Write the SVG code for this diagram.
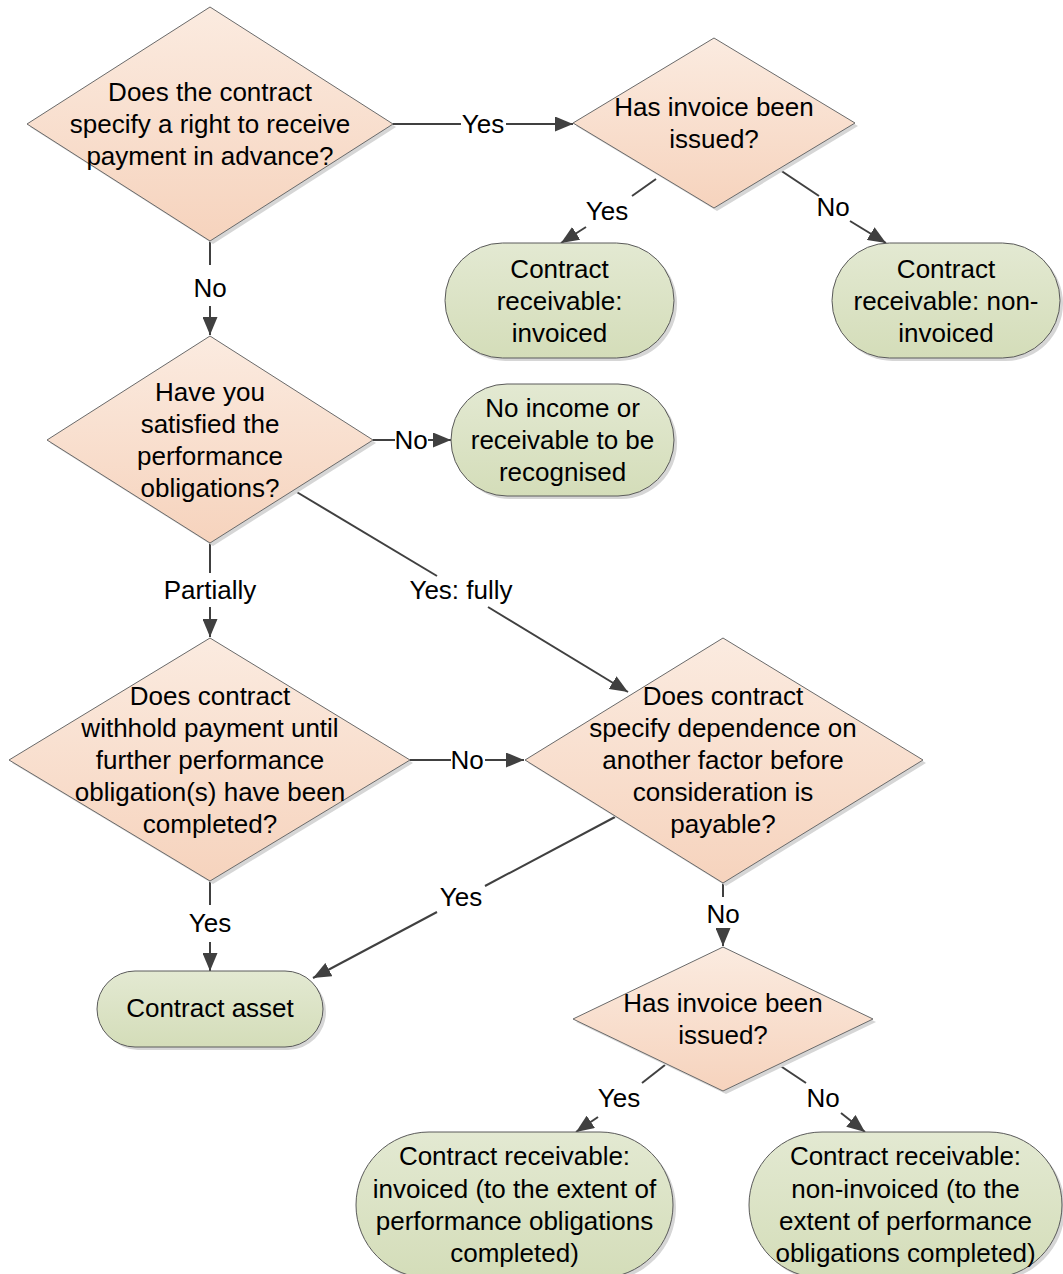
<svg xmlns="http://www.w3.org/2000/svg" width="1063" height="1274" viewBox="0 0 1063 1274">
<defs>
<linearGradient id="gD" x1="0" y1="0" x2="0" y2="1">
<stop offset="0" stop-color="#FBEBE0"/>
<stop offset="1" stop-color="#F6D3BD"/>
</linearGradient>
<linearGradient id="gT" x1="0" y1="0" x2="0" y2="1">
<stop offset="0" stop-color="#E3E9D2"/>
<stop offset="1" stop-color="#D4DDB9"/>
</linearGradient>
<marker id="arr" viewBox="0 0 18 15" markerWidth="18" markerHeight="15" refX="18" refY="7.5" orient="auto" markerUnits="userSpaceOnUse">
<path d="M0,0 L18,7.5 L0,15 z" fill="#404040"/>
</marker>
</defs>
<style>
.dia{fill:url(#gD);stroke:#6a6a6a;stroke-width:1}
.ter{fill:url(#gT);stroke:#5a5a5a;stroke-width:1}
.sh{fill:#d6d6d6}
.t{font-family:"Liberation Sans",Arial,sans-serif;font-size:26px;fill:#000;text-anchor:middle}
.c{stroke:#404040;stroke-width:2;fill:none}
.a{marker-end:url(#arr)}
</style>
<rect width="1063" height="1274" fill="#fff"/>

<g id="connectors">
<line class="c" x1="393" y1="124" x2="461" y2="124"/>
<line class="c a" x1="506" y1="124" x2="573" y2="124"/>
<text class="t" x="483" y="133">Yes</text>

<line class="c" x1="656" y1="179" x2="632" y2="196"/>
<line class="c a" x1="586" y1="227" x2="561" y2="243"/>
<text class="t" x="607" y="220">Yes</text>

<line class="c" x1="780" y1="170" x2="819" y2="196"/>
<line class="c a" x1="850" y1="221" x2="886" y2="243"/>
<text class="t" x="833" y="216">No</text>

<line class="c" x1="210" y1="241" x2="210" y2="265"/>
<line class="c a" x1="210" y1="306" x2="210" y2="335"/>
<text class="t" x="210" y="297">No</text>

<line class="c" x1="373" y1="440" x2="395" y2="440"/>
<line class="c a" x1="428" y1="440" x2="451" y2="440"/>
<text class="t" x="411" y="449">No</text>

<line class="c" x1="210" y1="543" x2="210" y2="573"/>
<line class="c a" x1="210" y1="607" x2="210" y2="637"/>
<text class="t" x="210" y="599">Partially</text>

<line class="c" x1="295" y1="491" x2="437" y2="576"/>
<line class="c a" x1="488" y1="607" x2="628" y2="692"/>
<text class="t" x="461" y="599">Yes: fully</text>

<line class="c" x1="410" y1="760" x2="451" y2="760"/>
<line class="c a" x1="485" y1="760" x2="524" y2="760"/>
<text class="t" x="467" y="769">No</text>

<line class="c" x1="615" y1="817" x2="485" y2="886"/>
<line class="c a" x1="437" y1="912" x2="313" y2="978"/>
<text class="t" x="461" y="906">Yes</text>

<line class="c" x1="210" y1="881" x2="210" y2="905"/>
<line class="c a" x1="210" y1="942" x2="210" y2="971"/>
<text class="t" x="210" y="932">Yes</text>

<line class="c" x1="723" y1="883" x2="723" y2="897"/>
<line class="c a" x1="723" y1="932" x2="723" y2="946"/>
<text class="t" x="723" y="923">No</text>

<line class="c" x1="665" y1="1065" x2="642" y2="1083"/>
<line class="c a" x1="598" y1="1117" x2="576" y2="1132"/>
<text class="t" x="619" y="1107">Yes</text>

<line class="c" x1="779" y1="1065" x2="806" y2="1083"/>
<line class="c a" x1="841" y1="1113" x2="865" y2="1132"/>
<text class="t" x="823" y="1107">No</text>
</g>

<g id="n-advance">
<polygon class="sh" points="213,10 396,127 213,244 30,127"/>
<polygon class="dia" points="210,7 393,124 210,241 27,124"/>
<text class="t" x="210" y="101">Does the contract</text>
<text class="t" x="210" y="133">specify a right to receive</text>
<text class="t" x="210" y="165">payment in advance?</text>
</g>

<g id="n-invoice1">
<polygon class="sh" points="717,41 858,126 717,211 576,126"/>
<polygon class="dia" points="714,38 855,123 714,208 573,123"/>
<text class="t" x="714" y="116">Has invoice been</text>
<text class="t" x="714" y="148">issued?</text>
</g>

<g id="n-recv-inv">
<rect class="sh" x="448" y="246" width="229" height="115" rx="57.5"/>
<rect class="ter" x="445" y="243" width="229" height="115" rx="57.5"/>
<text class="t" x="559.5" y="278">Contract</text>
<text class="t" x="559.5" y="310">receivable:</text>
<text class="t" x="559.5" y="342">invoiced</text>
</g>

<g id="n-recv-noninv">
<rect class="sh" x="835" y="246" width="228" height="115" rx="57.5"/>
<rect class="ter" x="832" y="243" width="228" height="115" rx="57.5"/>
<text class="t" x="946" y="278">Contract</text>
<text class="t" x="946" y="310">receivable: non-</text>
<text class="t" x="946" y="342">invoiced</text>
</g>

<g id="n-satisfied">
<polygon class="sh" points="213,339 376,443 213,546 50,443"/>
<polygon class="dia" points="210,336 373,440 210,543 47,440"/>
<text class="t" x="210" y="401">Have you</text>
<text class="t" x="210" y="433">satisfied the</text>
<text class="t" x="210" y="465">performance</text>
<text class="t" x="210" y="497">obligations?</text>
</g>

<g id="n-noincome">
<rect class="sh" x="454" y="387" width="223" height="112" rx="56"/>
<rect class="ter" x="451" y="384" width="223" height="112" rx="56"/>
<text class="t" x="562.5" y="417">No income or</text>
<text class="t" x="562.5" y="449">receivable to be</text>
<text class="t" x="562.5" y="481">recognised</text>
</g>

<g id="n-withhold">
<polygon class="sh" points="213,641 413,763 213,884 12,763"/>
<polygon class="dia" points="210,638 410,760 210,881 9,760"/>
<text class="t" x="210" y="705">Does contract</text>
<text class="t" x="210" y="737">withhold payment until</text>
<text class="t" x="210" y="769">further performance</text>
<text class="t" x="210" y="801">obligation(s) have been</text>
<text class="t" x="210" y="833">completed?</text>
</g>

<g id="n-dependence">
<polygon class="sh" points="726,641 926,763 726,886 528,763"/>
<polygon class="dia" points="723,638 923,760 723,883 525,760"/>
<text class="t" x="723" y="705">Does contract</text>
<text class="t" x="723" y="737">specify dependence on</text>
<text class="t" x="723" y="769">another factor before</text>
<text class="t" x="723" y="801">consideration is</text>
<text class="t" x="723" y="833">payable?</text>
</g>

<g id="n-asset">
<rect class="sh" x="100" y="974" width="226" height="76" rx="38"/>
<rect class="ter" x="97" y="971" width="226" height="76" rx="38"/>
<text class="t" x="210" y="1017">Contract asset</text>
</g>

<g id="n-invoice2">
<polygon class="sh" points="726,950 876,1022 726,1094 576,1022"/>
<polygon class="dia" points="723,947 873,1019 723,1091 573,1019"/>
<text class="t" x="723" y="1012">Has invoice been</text>
<text class="t" x="723" y="1044">issued?</text>
</g>

<g id="n-recv-inv-ext">
<rect class="sh" x="359" y="1135" width="317" height="146" rx="73"/>
<rect class="ter" x="356" y="1132" width="317" height="146" rx="73"/>
<text class="t" x="514.5" y="1165">Contract receivable:</text>
<text class="t" x="514.5" y="1198">invoiced (to the extent of</text>
<text class="t" x="514.5" y="1230">performance obligations</text>
<text class="t" x="514.5" y="1262">completed)</text>
</g>

<g id="n-recv-noninv-ext">
<rect class="sh" x="752" y="1135" width="313" height="146" rx="73"/>
<rect class="ter" x="749" y="1132" width="313" height="146" rx="73"/>
<text class="t" x="905.5" y="1165">Contract receivable:</text>
<text class="t" x="905.5" y="1198">non-invoiced (to the</text>
<text class="t" x="905.5" y="1230">extent of performance</text>
<text class="t" x="905.5" y="1262">obligations completed)</text>
</g>
</svg>
